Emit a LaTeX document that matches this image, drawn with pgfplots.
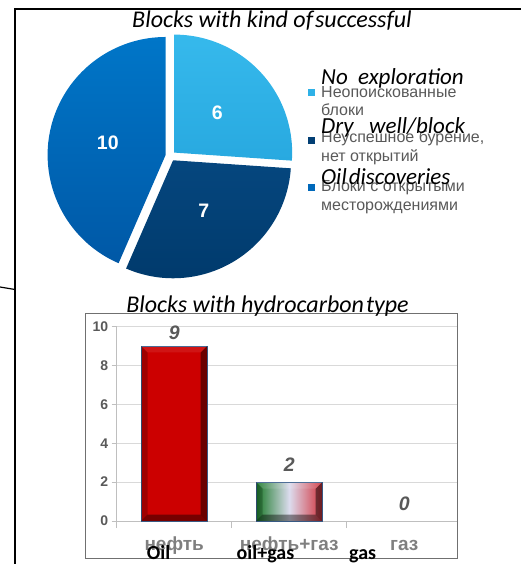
\documentclass[border=0pt]{standalone}
\usepackage{pgfplots}
\pgfplotsset{compat=1.18}
\usepackage{fontspec}
\setmainfont{Liberation Sans}
\newfontfamily\calibri{Carlito}

\definecolor{pieLightT}{HTML}{36B9EC}
\definecolor{pieLightB}{HTML}{28A9E0}
\definecolor{pieNavyT}{HTML}{06477F}
\definecolor{pieNavyB}{HTML}{003A6C}
\definecolor{pieBlueT}{HTML}{0076C8}
\definecolor{pieBlueB}{HTML}{0058A6}
\definecolor{pieLight}{HTML}{2EB1E7}
\definecolor{pieNavy}{HTML}{023F74}
\definecolor{pieBlue}{HTML}{0068BA}
\definecolor{txtgray}{HTML}{595959}
\definecolor{lblgray}{HTML}{7F7F7F}
\definecolor{gridgray}{HTML}{D9D9D9}
\definecolor{axisgray}{HTML}{BFBFBF}
\definecolor{framegray}{HTML}{707070}
\definecolor{barred}{HTML}{CC0000}
\definecolor{bargreen}{HTML}{1B7A2A}
\definecolor{barred2}{HTML}{D2343E}
\definecolor{barmid}{HTML}{DCDCEE}
\definecolor{barborder}{HTML}{3C5F8C}

\begin{document}
\begin{tikzpicture}[x=1pt,y=-1pt]
\useasboundingbox (0,0) rectangle (521,564);

% slide frame
\draw[black, line width=1.3pt] (521,9) -- (15,9) -- (15,566);
\draw[black, line width=1.2pt] (0,287) -- (15,289.5);

% ---------- pie: blocks by exploration result ----------
\node[anchor=base, inner sep=0pt, font=\calibri\itshape\fontsize{24}{24}\selectfont]
  at (272,28) {Blocks with kind of\hspace{2pt}successful};

\pgfmathsetmacro\pietotal{6+7+10}
\xdef\pieangle{90}
\foreach \v/\ca/\cb in {6/pieLightT/pieLightB, 7/pieNavyT/pieNavyB, 10/pieBlueT/pieBlueB}{
  \pgfmathsetmacro\sweep{360*\v/\pietotal}
  \pgfmathsetmacro\aend{\pieangle-\sweep}
  \pgfmathsetmacro\amid{\pieangle-\sweep/2}
  \path[top color=\ca, bottom color=\cb] (170.5,156) ++(\amid:5pt) -- ++(\pieangle:118pt)
     arc[start angle=\pieangle, end angle=\aend, radius=118pt] -- cycle;
  \path (170.5,156) ++(\amid:64pt) node[text=white, inner sep=0pt,
     font=\bfseries\fontsize{19.5}{19.5}\selectfont] {\v};
  \xdef\pieangle{\aend}
}

% legend
\fill[pieLight] (308.3,89.3) rectangle ++(6.5,6.5);
\fill[pieNavy]  (308.3,137.3) rectangle ++(6.5,6.5);
\fill[pieBlue]  (308.3,184) rectangle ++(6.5,6.5);
\begin{scope}[every node/.style={anchor=base west, inner sep=0pt, text=txtgray,
    font=\fontsize{16}{16}\selectfont}]
  \node at (321,97.3) {Неопоискованные};
  \node at (321,116) {блоки};
  \node at (321,142.7) {Неуспешное бурение,};
  \node at (321,161.7) {нет открытий};
  \node at (321,191) {Блоки с открытыми};
  \node at (321,210) {месторождениями};
\end{scope}
\begin{scope}[every node/.style={anchor=base west, inner sep=0pt, text=black,
    font=\calibri\itshape\fontsize{23}{23}\selectfont}]
  \node at (321,85) {No\ \ exploration};
  \node at (321,134) {Dry\ \ \ well/block};
  \node at (321,184) {Oil\hspace{2pt}discoveries};
\end{scope}

% ---------- bars: blocks by hydrocarbon type ----------
\draw[framegray, line width=0.9pt] (85,313.3) rectangle (457,558);
\node[anchor=base, inner sep=0pt, font=\calibri\itshape\fontsize{24}{24}\selectfont]
  at (267.5,312.7) {Blocks with hydrocarbon\hspace{2pt}type};

\begin{axis}[
  at={(116.7pt,-521pt)}, anchor=south west,
  scale only axis, width=340.3pt, height=194.5pt,
  xmin=-0.5, xmax=2.459, ymin=0, ymax=10,
  axis x line*=bottom, axis y line*=left,
  axis line style={axisgray, line width=0.8pt, -},
  ytick={0,2,...,10}, ymajorgrids,
  major grid style={gridgray, line width=0.8pt},
  tick align=outside,
  major tick length=5pt, minor tick length=7pt,
  ytick style={axisgray, line width=0.8pt},
  xtick={0,1,2}, xticklabels={нефть,нефть+газ,газ},
  minor xtick={-0.5,0.5,1.5},
  major x tick style={draw=none},
  minor x tick style={axisgray, line width=0.8pt},
  /pgf/number format/assume math mode=true,
  yticklabel style={font=\bfseries\fontsize{14}{14}\selectfont, text=txtgray},
  xticklabel style={font=\bfseries\fontsize{19}{19}\selectfont, text=lblgray,
     anchor=base, yshift=-24pt},
  ybar, bar width=66pt, bar shift=0pt,
  clip=false,
]
\addplot[fill=barred, draw=barborder, line width=0.6pt,
  nodes near coords, nodes near coords style={inner sep=0pt, yshift=6pt, text=txtgray,
  font=\bfseries\itshape\fontsize{19.5}{19.5}\selectfont}]
  coordinates {(0,9)};
\addplot[left color=bargreen, right color=barred2, middle color=barmid,
  draw=barborder, line width=0.6pt,
  nodes near coords, nodes near coords style={inner sep=0pt, yshift=10pt, text=txtgray,
  font=\bfseries\itshape\fontsize{19.5}{19.5}\selectfont}]
  coordinates {(1,2)};
\addplot[draw=none, fill=none,
  nodes near coords, nodes near coords style={inner sep=0pt, yshift=10pt, text=txtgray,
  font=\bfseries\itshape\fontsize{19.5}{19.5}\selectfont}]
  coordinates {(2,0)};

% bevelled edges of the bars
\addplot[sharp plot, draw=none, fill=black, fill opacity=0.22, forget plot]
  coordinates {(-0.287,0) (-0.287,9) (-0.2305,8.666) (-0.2305,0.334)} -- cycle;
\addplot[sharp plot, draw=none, fill=black, fill opacity=0.48, forget plot]
  coordinates {(0.287,0) (0.287,9) (0.2305,8.666) (0.2305,0.334)} -- cycle;
\addplot[sharp plot, draw=none, fill=black, fill opacity=0.42, forget plot]
  coordinates {(-0.287,0) (0.287,0) (0.2305,0.334) (-0.2305,0.334)} -- cycle;
\addplot[sharp plot, draw=none, fill=white, fill opacity=0.08, forget plot]
  coordinates {(-0.287,9) (0.287,9) (0.2305,8.666) (-0.2305,8.666)} -- cycle;

\addplot[sharp plot, draw=none, fill=black, fill opacity=0.22, forget plot]
  coordinates {(0.713,0) (0.713,2) (0.7695,1.666) (0.7695,0.334)} -- cycle;
\addplot[sharp plot, draw=none, fill=black, fill opacity=0.48, forget plot]
  coordinates {(1.287,0) (1.287,2) (1.2305,1.666) (1.2305,0.334)} -- cycle;
\addplot[sharp plot, draw=none, fill=black, fill opacity=0.42, forget plot]
  coordinates {(0.713,0) (1.287,0) (1.2305,0.334) (0.7695,0.334)} -- cycle;
\addplot[sharp plot, draw=none, fill=white, fill opacity=0.1, forget plot]
  coordinates {(0.713,2) (1.287,2) (1.2305,1.666) (0.7695,1.666)} -- cycle;
\end{axis}

% English category captions
\begin{scope}[every node/.style={anchor=base west, inner sep=0pt, text=black,
    font=\calibri\bfseries\fontsize{20}{20}\selectfont}]
  \node at (146.7,559) {Oil};
  \node at (236.5,559) {oil+gas};
  \node at (349,559) {gas};
\end{scope}
\end{tikzpicture}
\end{document}
